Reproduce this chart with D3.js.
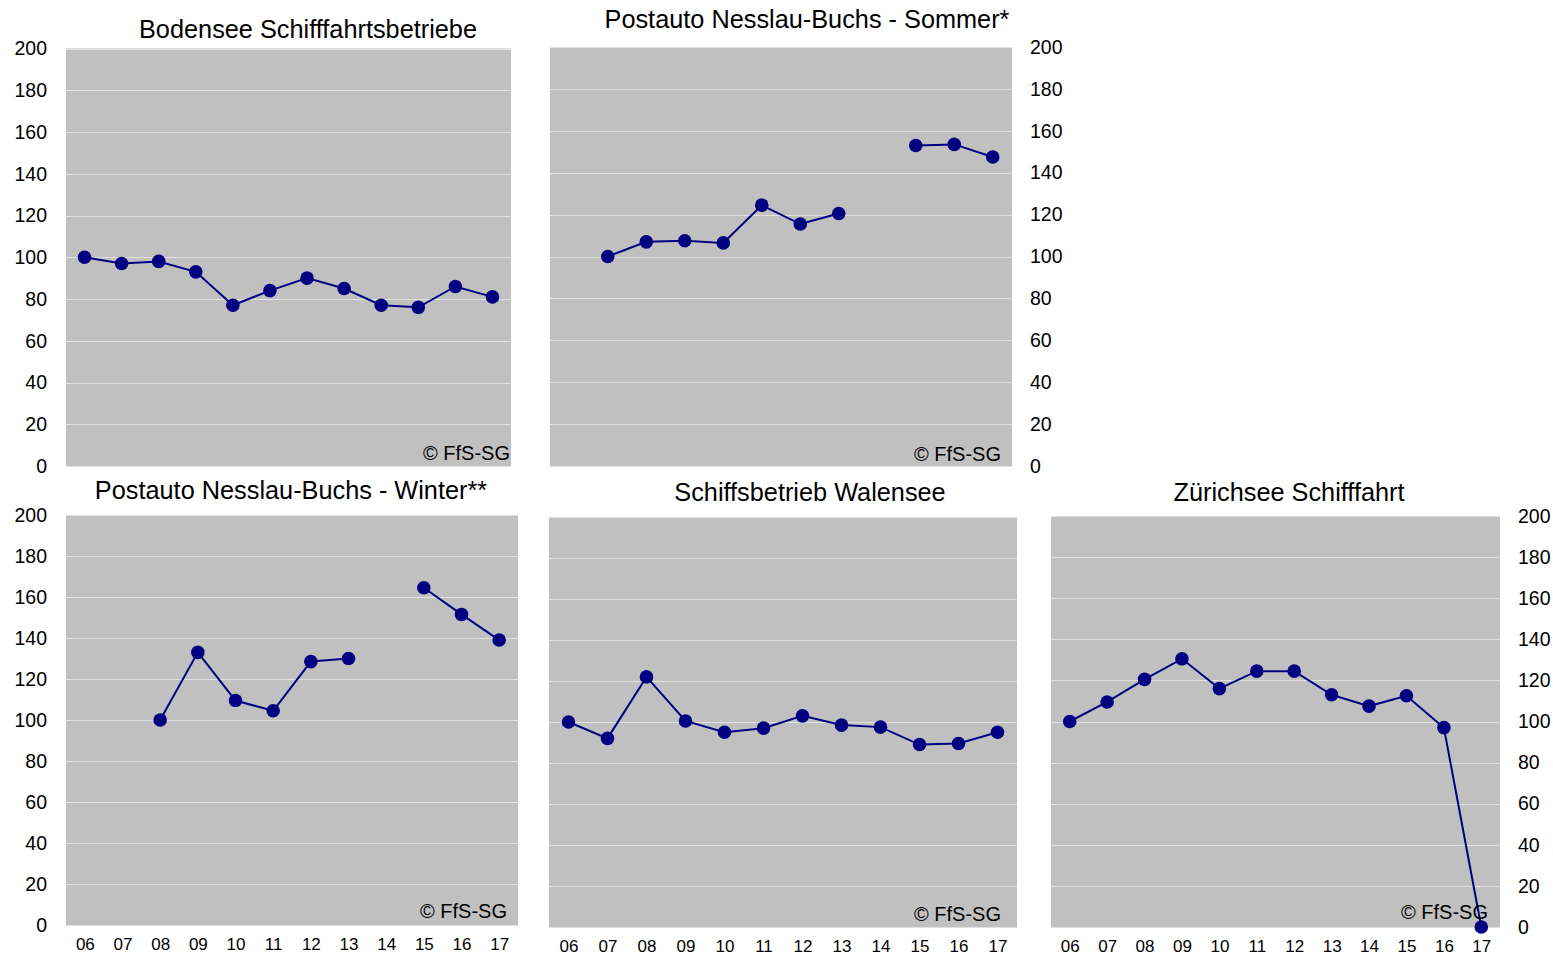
<!DOCTYPE html>
<html><head><meta charset="utf-8">
<script src="https://cdn.jsdelivr.net/npm/d3@7"></script>
<style>
html,body{margin:0;padding:0;background:#fff;}
svg{display:block;font-family:"Liberation Sans",Arial,sans-serif;}
</style></head>
<body>
<svg id="chart" width="1553" height="956"></svg>
<script>
// ---- data ----
const years = ["06","07","08","09","10","11","12","13","14","15","16","17"];
const yTicks = [0,20,40,60,80,100,120,140,160,180,200];
const titles = ["Bodensee Schifffahrtsbetriebe","Postauto Nesslau-Buchs - Sommer*","Postauto Nesslau-Buchs - Winter**","Schiffsbetrieb Walensee","Zürichsee Schifffahrt"];
const bodensee = [100,97,98,93,77,84,90,85,77,76,86,81];
const postSommer = [null,100,107,107.5,106.5,124.5,115.5,120.5,null,153,153.5,147.5];
const postWinter = [null,null,100,133,109.5,104.5,128.5,130,null,164.5,151.5,139];
const walensee = [100,92,122,100.5,95,97,103,98.5,97.5,89,89.5,95];
const zuerichsee = [100,109.5,120.5,130.5,116,124.5,124.5,113,107.5,112.5,97,0];
const copyright = "© FfS-SG";

// ---- layout ----
const panels = [
  {series:bodensee,  title:titles[0], x0:66,  x1:511,  y0:48.5, y1:466, axis:"left",  xlabels:false, tx:308, ty:38,  cx:510, cy:460},
  {series:postSommer,title:titles[1], x0:550, x1:1012, y0:47,   y1:466, axis:"right", xlabels:false, tx:807, ty:28,  cx:1001, cy:461},
  {series:postWinter,title:titles[2], x0:66,  x1:518,  y0:515,  y1:925, axis:"left",  xlabels:true,  tx:291, ty:499, cx:507, cy:918},
  {series:walensee,  title:titles[3], x0:549, x1:1017, y0:517,  y1:927, axis:"none",  xlabels:true,  tx:810, ty:501, cx:1001, cy:921},
  {series:zuerichsee,title:titles[4], x0:1051,x1:1500, y0:516,  y1:927, axis:"right", xlabels:true,  tx:1289,ty:501, cx:1488, cy:919}
];

const svg = d3.select("#chart");
const lineColor = "#000080";

panels.forEach(p => {
  const x = d3.scalePoint().domain(years).range([p.x0, p.x1]).padding(0.5);
  const y = d3.scaleLinear().domain([0,200]).range([p.y1, p.y0]);
  const g = svg.append("g");

  g.append("rect").attr("x",p.x0).attr("y",p.y0).attr("width",p.x1-p.x0).attr("height",p.y1-p.y0).attr("fill","#c0c0c0");

  g.selectAll("line.grid").data(yTicks).join("line").attr("class","grid")
    .attr("x1",p.x0).attr("x2",p.x1)
    .attr("y1",d=>Math.round(y(d))+0.5).attr("y2",d=>Math.round(y(d))+0.5)
    .attr("stroke","#e2e2e2").attr("stroke-width",1);

  if (p.axis !== "none") {
    const ax = p.axis === "left" ? d3.axisLeft(y) : d3.axisRight(y);
    ax.tickValues(yTicks).tickSize(0).tickPadding(p.axis==="left"?19:18).tickFormat(d3.format("d"));
    const ag = g.append("g").attr("transform",`translate(${p.axis==="left"?p.x0:p.x1},0)`).call(ax);
    ag.select(".domain").remove();
    ag.selectAll("text").attr("font-size",19.5).attr("fill","#000").attr("font-family","Liberation Sans, Arial, sans-serif");
  }

  if (p.xlabels) {
    const xa = d3.axisBottom(x).tickSize(0).tickPadding(12.5);
    const xg = g.append("g").attr("transform",`translate(0,${p.y1})`).call(xa);
    xg.select(".domain").remove();
    xg.selectAll("text").attr("font-size",17).attr("fill","#000").attr("font-family","Liberation Sans, Arial, sans-serif");
  }

  const line = d3.line().defined(d=>d!=null).x((d,i)=>x(years[i])).y(d=>y(d));
  g.append("path").datum(p.series).attr("d",line).attr("fill","none").attr("stroke",lineColor).attr("stroke-width",2);

  g.selectAll("circle").data(p.series.map((v,i)=>({v,i})).filter(d=>d.v!=null)).join("circle")
    .attr("cx",d=>x(years[d.i])).attr("cy",d=>y(d.v)).attr("r",6.8).attr("fill",lineColor);

  g.append("text").attr("x",p.cx).attr("y",p.cy).attr("text-anchor","end")
    .attr("font-size",20).attr("fill","#000").text(copyright);

  svg.append("text").attr("x",p.tx).attr("y",p.ty).attr("text-anchor","middle")
    .attr("font-size",25.3).attr("fill","#000").text(p.title);
});
</script>
</body></html>
